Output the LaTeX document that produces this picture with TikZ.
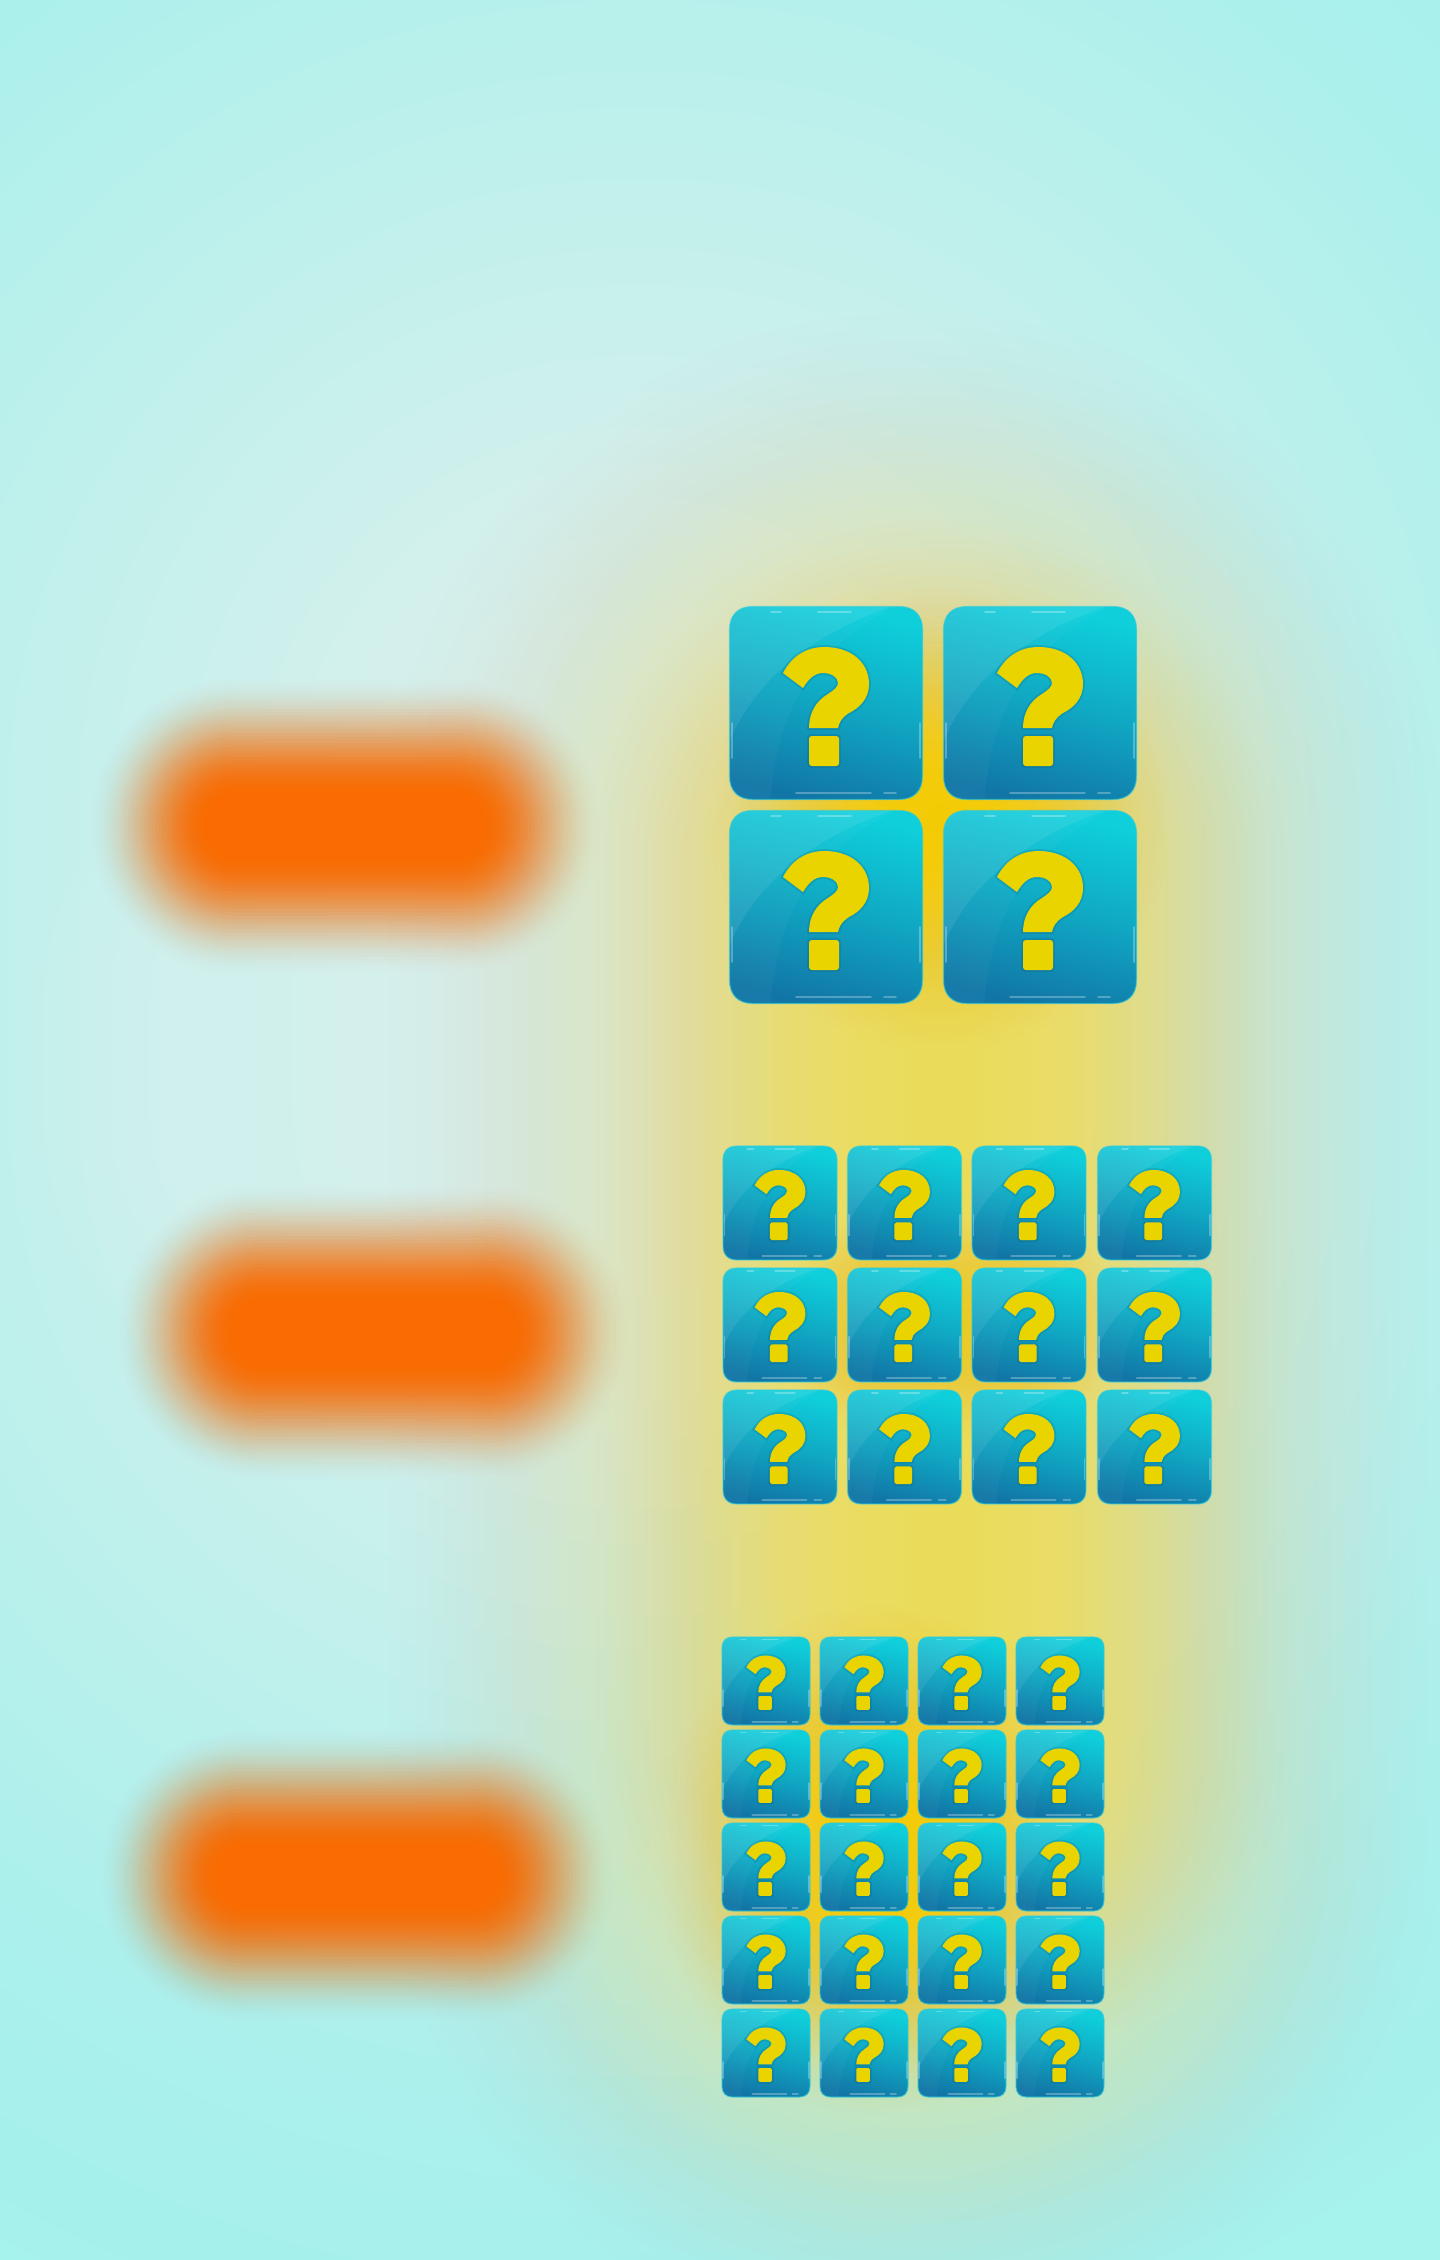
\documentclass[tikz,border=0pt]{standalone}
\usetikzlibrary{calc}
\definecolor{bgaqua}{HTML}{A6F2EC}
\definecolor{bgpale}{HTML}{E8F0F6}
\definecolor{glowpale}{HTML}{EEE698}
\definecolor{glowmid}{HTML}{F6DC55}
\definecolor{glowgold}{HTML}{FBCB00}
\definecolor{pillorange}{HTML}{FB6C02}
\definecolor{tiletop}{HTML}{0FCFDB}
\definecolor{tilebottom}{HTML}{1176A6}
\definecolor{tilerim}{HTML}{2CCBDC}
\definecolor{markyellow}{HTML}{EAD400}
\newcommand{\tileoutline}{(-73,-96.5) -- (73,-96.5) .. controls (88,-96.5) and (96.5,-88) .. (96.5,-73) -- (96.5,73) .. controls (96.5,88) and (88,96.5) .. (73,96.5) -- (-73,96.5) .. controls (-88,96.5) and (-96.5,88) .. (-96.5,73) -- (-96.5,-73) .. controls (-96.5,-88) and (-88,-96.5) .. (-73,-96.5) -- cycle}
\newcommand{\markhook}{(-43,-30) .. controls (-33,-49) and (-17,-56) .. (-2,-56) .. controls (27,-56) and (43,-39) .. (43,-19) .. controls (43,-4) and (33,5) .. (23,10) .. controls (15,15) and (13,20) .. (12,25) -- (-17,25) .. controls (-17,10) and (-10,-2) .. (2,-9) .. controls (8,-13) and (12,-16) .. (12,-20) .. controls (12,-26) and (5,-30) .. (-3,-30) .. controls (-11,-30) and (-17,-25) .. (-23,-15) -- cycle}
\newcommand{\markdot}{(-14,33) -- (10,33) .. controls (12,33) and (13,34) .. (13,36) -- (13,60) .. controls (13,62) and (12,63) .. (10,63) -- (-14,63) .. controls (-16,63) and (-17,62) .. (-17,60) -- (-17,36) .. controls (-17,34) and (-16,33) .. (-14,33) -- cycle}
\newcommand{\softblob}[7]{%
  \foreach \k in {1,...,36}{
    \pgfmathsetmacro{\blobd}{#5*(1-2*(\k-1)/35)}
    \pgfmathsetmacro{\blobhw}{#3+\blobd}
    \pgfmathsetmacro{\blobhh}{#4+\blobd}
    \pgfmathsetmacro{\blobr}{min(\blobhw,\blobhh)*0.0098}
    \pgfmathsetmacro{\blobs}{\k/36}
    \pgfmathsetmacro{\blobp}{(\k-1)/36}
    \pgfmathsetmacro{\bloba}{#7*\blobs*\blobs*(3-2*\blobs)}
    \pgfmathsetmacro{\blobb}{#7*\blobp*\blobp*(3-2*\blobp)}
    \pgfmathsetmacro{\bloba}{min(\bloba,0.9999)}
    \pgfmathsetmacro{\blobo}{1-(1-\bloba)/(1-\blobb)}
    \fill[#6,opacity=\blobo,rounded corners=\blobr cm] (#1-\blobhw,#2-\blobhh) rectangle (#1+\blobhw,#2+\blobhh);
  }
}
\tikzset{
  tile face/.style={top color=tiletop,bottom color=tilebottom,middle color=tiletop!55!tilebottom,shading angle=-14},
  tile rim/.style={draw=tilerim,draw opacity=0.6,line width=0.35pt},
  tile gloss/.style={white,opacity=0.08},
  tile glint/.style={white,opacity=0.28,line width=0.5pt,line cap=round},
  mark shadow/.style={draw=tilebottom!60!black,draw opacity=0.16,line width=1.1pt},
  mark fill/.style={fill=markyellow},
  quiz tile/.pic={
    \shade[tile face] \tileoutline;
    \begin{scope}
      \clip \tileoutline;
      \fill[tile gloss] (-100,46) .. controls (-78,-10) and (-30,-66) .. (76,-100) -- (-100,-100) -- cycle;
      \fill[tile gloss,opacity=0.03] (-56,100) .. controls (-50,30) and (-30,-50) .. (76,-100) -- (-100,-100) -- (-100,100) -- cycle;
    \end{scope}
    \draw[tile rim] \tileoutline;
    \draw[tile glint] (-55,-91) -- (-45,-91);
    \draw[tile glint] (-8,-91) -- (25,-91);
    \draw[tile glint] (-30,90) -- (45,90);
    \draw[tile glint] (58,90) -- (70,90);
    \draw[tile glint] (-94,20) -- (-94,55);
    \draw[tile glint] (94,20) -- (94,55);
    \draw[mark shadow] \markhook;
    \draw[mark shadow] \markdot;
    \fill[mark fill] \markhook;
    \fill[mark fill] \markdot;
  },
}
\begin{document}
\begin{tikzpicture}[x=0.01cm,y=-0.01cm]
  \useasboundingbox (0,0) rectangle (1440,2260);
  \clip (0,0) rectangle (1440,2260);
  \fill[bgaqua] (0,0) rectangle (1440,2260);
  % pale wash and gold glow
  \softblob{640}{950}{720}{860}{620}{bgpale}{0.85}
  \softblob{340}{1060}{250}{300}{230}{bgpale}{0.6}
  \softblob{915}{1330}{300}{790}{240}{glowpale}{0.85}
  \softblob{945}{1300}{190}{620}{170}{glowmid}{0.82}
  \softblob{940}{820}{120}{120}{110}{glowgold}{0.9}
  \softblob{950}{1325}{120}{60}{55}{glowgold}{0.45}
  \softblob{880}{1860}{110}{150}{105}{glowgold}{0.9}
  % blurred pills
  \softblob{345}{826}{195}{88}{60}{pillorange}{1}
  \softblob{373}{1333}{197}{88}{60}{pillorange}{1}
  \softblob{357}{1876}{197}{86}{60}{pillorange}{1}
  % tiles, large block
  \foreach \y in {703,907}
    \foreach \x in {826,1040}
      \pic at (\x,\y) {quiz tile};
  % tiles, middle block
  \foreach \y in {1203,1325,1447}
    \foreach \x in {780,904.5,1029,1154.5}
      \pic[scale=0.59] at (\x,\y) {quiz tile};
  % tiles, small block
  \foreach \y in {1681,1774,1867,1960,2053}
    \foreach \x in {766,864,962,1060}
      \pic[scale=0.456] at (\x,\y) {quiz tile};
\end{tikzpicture}
\end{document}
